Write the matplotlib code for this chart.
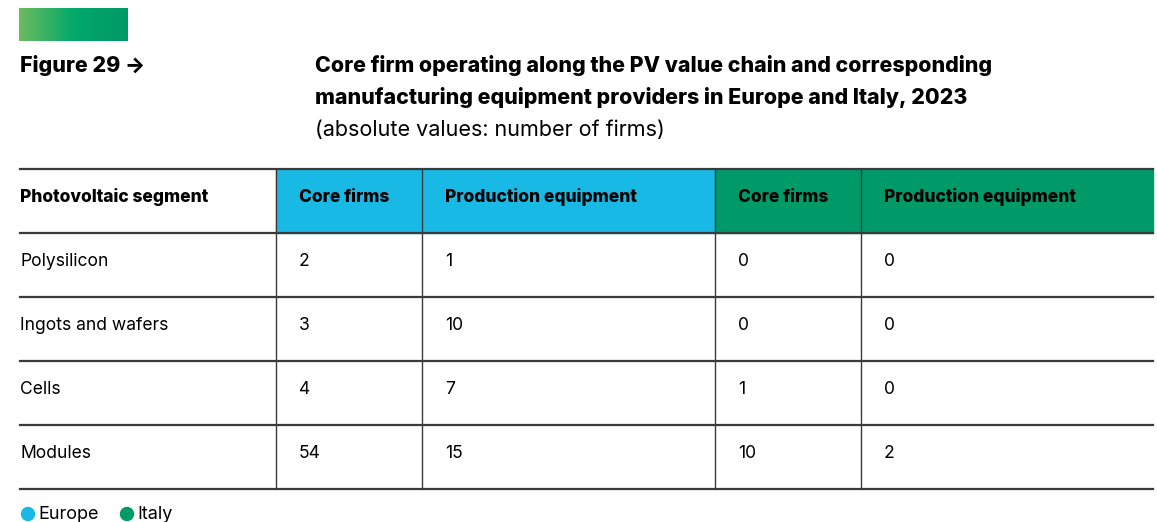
import numpy as np
import matplotlib
matplotlib.use("Agg")
import matplotlib.pyplot as plt
from matplotlib.colors import LinearSegmentedColormap
from matplotlib.patches import Rectangle, Circle

plt.rcParams['font.family'] = ['Inter', 'DejaVu Sans']

segments = ["Polysilicon", "Ingots and wafers", "Cells", "Modules"]
europe_core = [2, 3, 4, 54]
europe_equipment = [1, 10, 7, 15]
italy_core = [0, 0, 1, 10]
italy_equipment = [0, 0, 0, 2]
col_labels = ["Photovoltaic segment", "Core firms", "Production equipment",
              "Core firms", "Production equipment"]
groups = ["Europe", "Italy"]

BLUE = "#19b9e6"
GREEN = "#009a68"
LINE = "#3a3a3a"

W, H = 1158, 522
fig = plt.figure(figsize=(W / 100, H / 100), dpi=100)
ax = fig.add_axes([0, 0, 1, 1])
ax.set_xlim(0, W)
ax.set_ylim(H, 0)
ax.axis("off")

# gradient badge
cmap = LinearSegmentedColormap.from_list("g", ["#6cbb5e", "#02a96b", "#009966"])
grad = np.linspace(0, 1, 200).reshape(1, -1)
ax.imshow(grad, cmap=cmap, extent=(19, 128, 41, 8), aspect="auto", zorder=1)

ax.text(20, 72, "Figure 29 \u2192", fontsize=15.4, fontweight="heavy", va="baseline")
ax.text(315, 72, "Core firm operating along the PV value chain and corresponding",
        fontsize=15.4, fontweight="heavy", va="baseline")
ax.text(315, 104, "manufacturing equipment providers in Europe and Italy, 2023",
        fontsize=15.4, fontweight="heavy", va="baseline")
ax.text(315, 136, "(absolute values: number of firms)", fontsize=15.5, va="baseline")

# table geometry
col_x = [20, 276, 422, 715, 861, 1153]
row_y = [169, 233, 297, 361, 425, 489]
header_fill = [None, BLUE, BLUE, GREEN, GREEN]

for i, fill in enumerate(header_fill):
    if fill:
        ax.add_patch(Rectangle((col_x[i], row_y[0]), col_x[i + 1] - col_x[i],
                               row_y[1] - row_y[0], color=fill, zorder=1))

for i, lab in enumerate(col_labels):
    x = col_x[i] if i == 0 else col_x[i] + 23
    ax.text(x, row_y[0] + 32.5, lab, fontsize=12.5, fontweight="heavy", va="baseline")

rows = list(zip(segments, europe_core, europe_equipment, italy_core, italy_equipment))
for r, row in enumerate(rows):
    y = row_y[r + 1] + 33
    for i, val in enumerate(row):
        x = col_x[i] if i == 0 else col_x[i] + 23
        ax.text(x, y, str(val), fontsize=12.6, va="baseline")

for y in row_y:
    ax.plot([col_x[0], col_x[-1]], [y, y], color=LINE, lw=1.6, zorder=3)
for x in col_x[1:-1]:
    ax.plot([x, x], [row_y[0], row_y[-1]], color=LINE, lw=1.0, zorder=3)

# legend
for (cx, tx), g, c in zip([(28, 38), (127, 137)], groups, [BLUE, GREEN]):
    ax.add_patch(Circle((cx, 514), 6.5, color=c))
    ax.text(tx, 519, g, fontsize=13, va="baseline")

fig.savefig("out.png", dpi=100)
